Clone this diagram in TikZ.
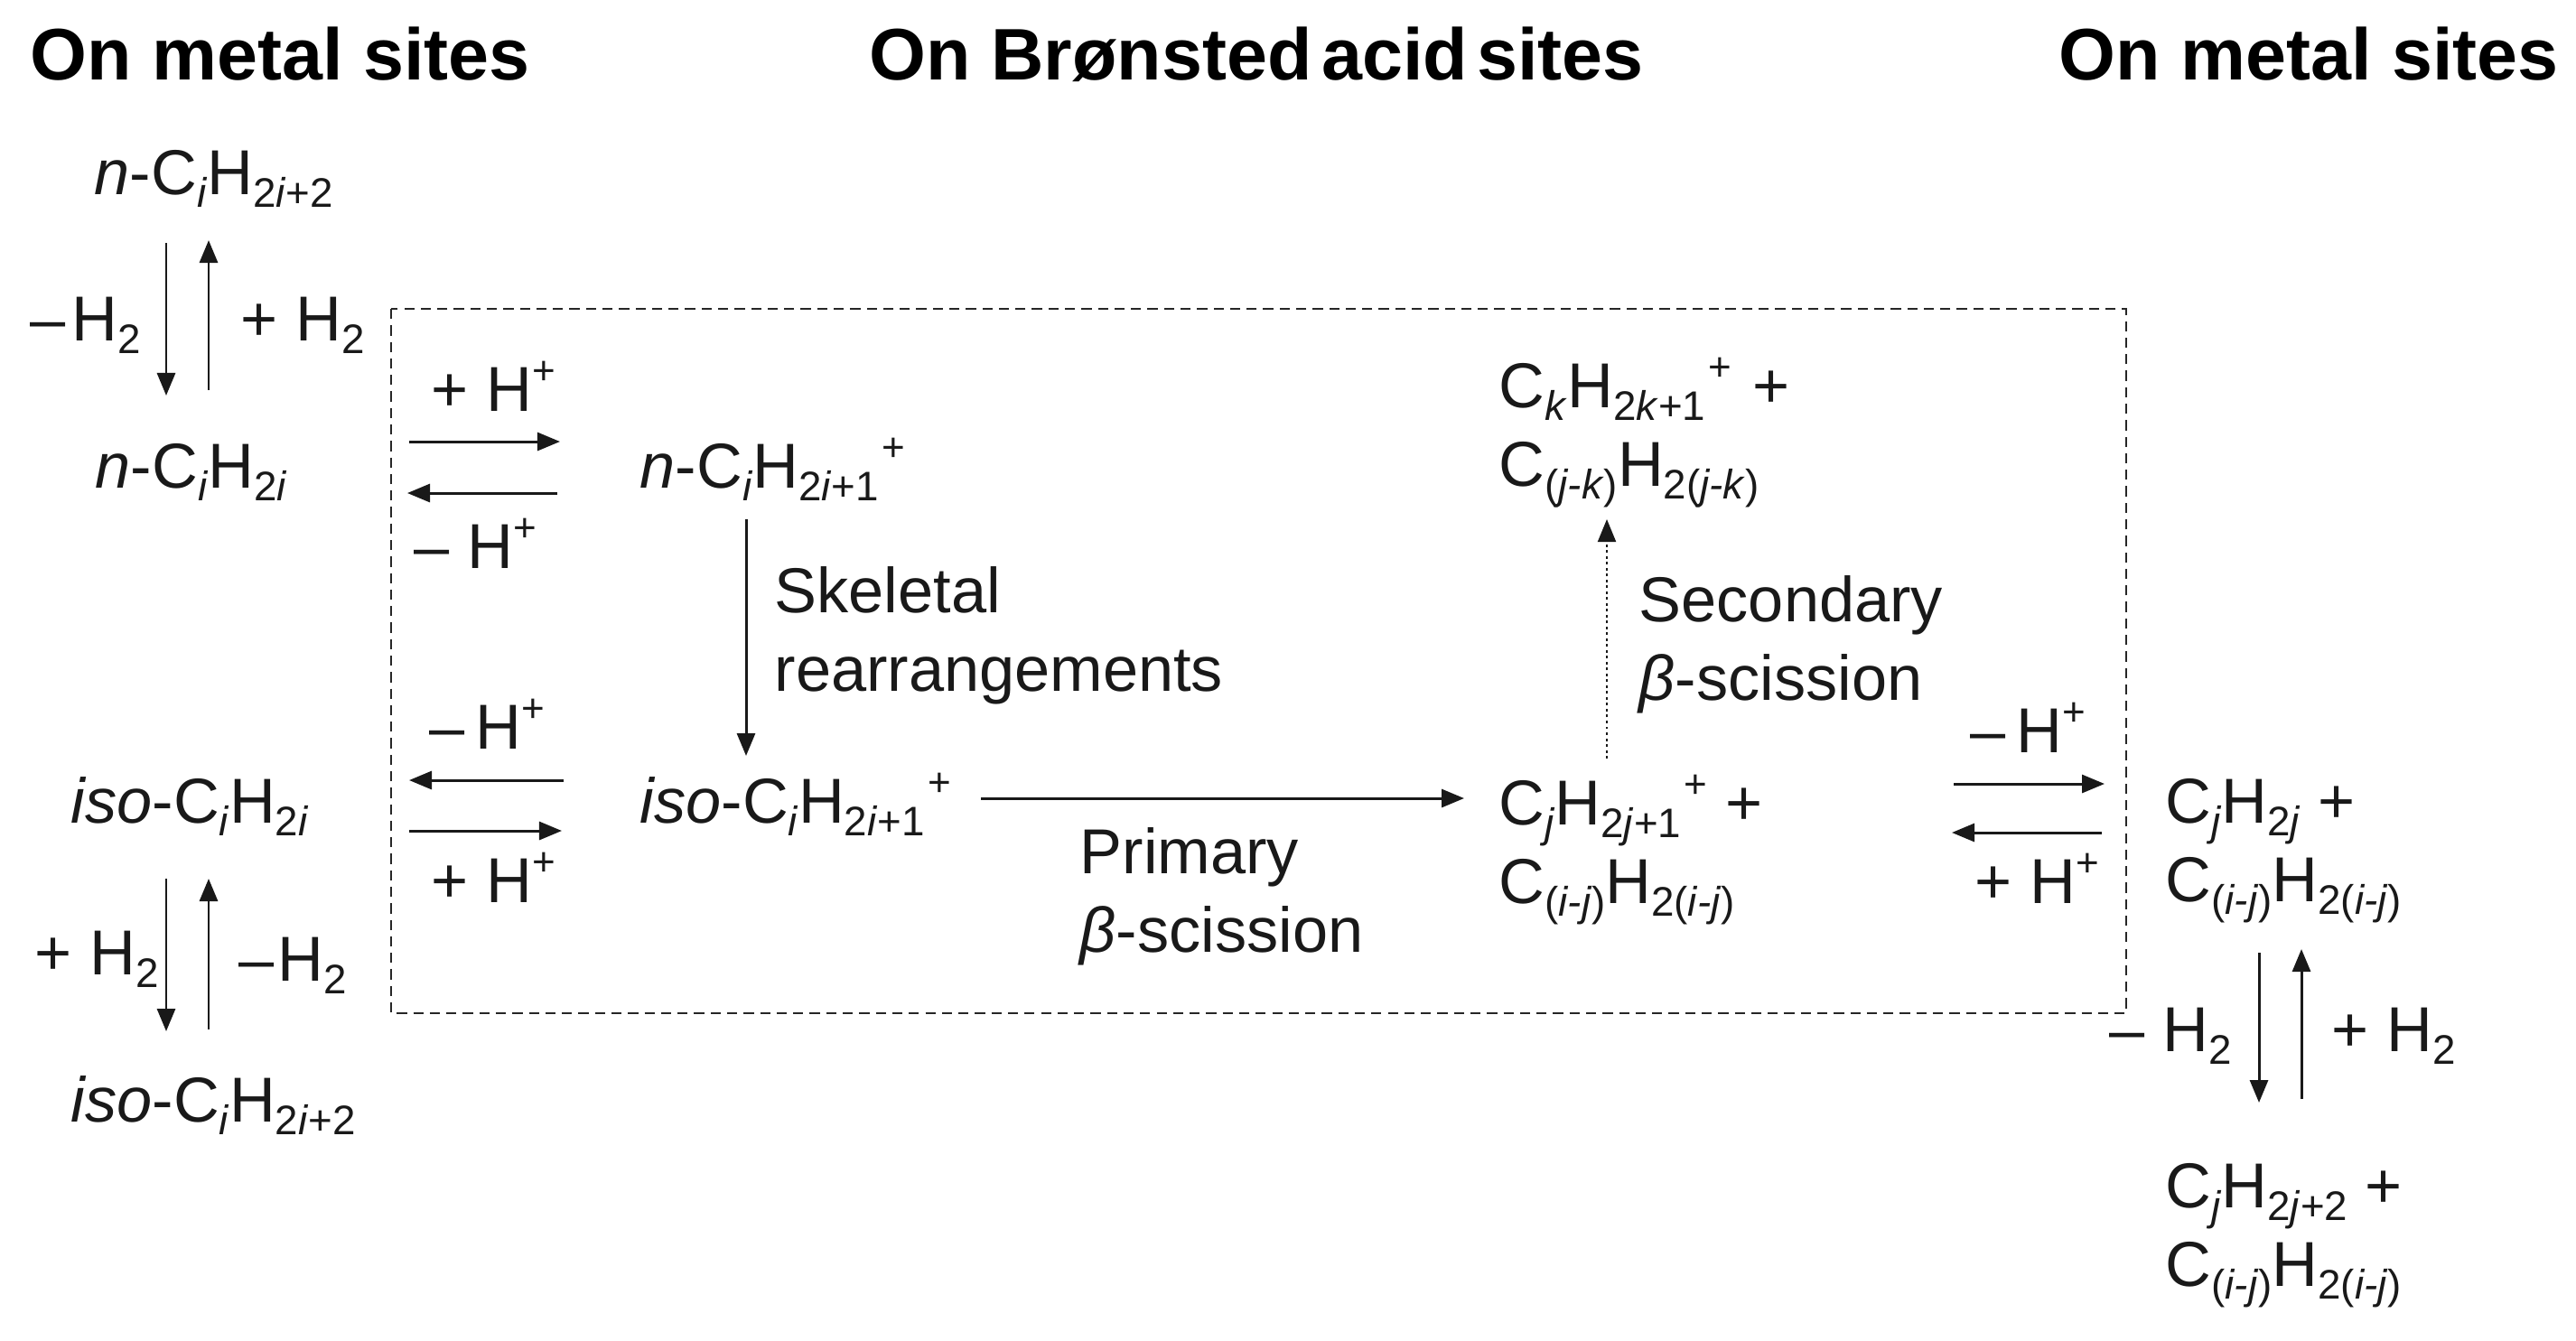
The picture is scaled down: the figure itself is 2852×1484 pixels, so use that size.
\documentclass[tikz,border=0pt]{standalone}
\usepackage{fontspec}
\usepackage{tikz}
\usetikzlibrary{arrows.meta}
\setmainfont{Liberation Sans}

\newcommand{\lsub}[1]{\raisebox{-.2em}{\fontsize{13}{14}\selectfont #1}}
\newcommand{\lsup}[1]{\raisebox{.42em}{\fontsize{12.5}{13}\selectfont #1}}

\begin{document}
\begin{tikzpicture}[
    x=.01cm, y=-.01cm,
    every node/.style={anchor=base west, inner sep=0pt, align=left, text=black!90, font=\fontsize{20}{24.7}\selectfont},
    sitetitle/.style={font=\fontsize{23}{28}\selectfont\bfseries, text=black},
    rxn/.style={-{Triangle[length=.25cm,width=.2cm]}, line width=.85pt, black!90},
    rxnfaint/.style={rxn, densely dotted, line width=.6pt},
    sitebox/.style={line width=.8pt, dash pattern=on 3.2pt off 2pt, black!85}
]
\useasboundingbox (0,0) rectangle (2852,1484);

% titles
\node[sitetitle] (metalleft) at (33,88) {On metal sites};
\node[sitetitle] (acid) at (962,88) {On Brønsted\hspace{3pt}acid\hspace{3pt}sites};
\node[sitetitle] (metalright) at (2279,88) {On metal sites};

\draw[sitebox] (433,342) rectangle (2354,1122);

% species
\node (nalkane) at (104,215) {\textit{n}-C\lsub{\textit{i}}H\lsub{2\textit{i}+2}};
\node (nalkene) at (105,540) {\textit{n}-C\lsub{\textit{i}}H\lsub{2\textit{i}}};
\node (isoalkene) at (78,911) {\textit{iso}-C\lsub{\textit{i}}H\lsub{2\textit{i}}};
\node (isoalkane) at (78,1242) {\textit{iso}-C\lsub{\textit{i}}H\lsub{2\textit{i}+2}};
\node (ncarb) at (708,540) {\textit{n}-C\lsub{\textit{i}}H\lsub{2\textit{i}+1}\kern1pt\lsup{+}};
\node (isocarb) at (708,911) {\textit{iso}-C\lsub{\textit{i}}H\lsub{2\textit{i}+1}\kern1pt\lsup{+}};
\node (jcarb) at (1659,1000) {C\lsub{\textit{j}}H\lsub{2\textit{j}+1}\kern1pt\lsup{+} +\\C\lsub{(\textit{i-j})}H\lsub{2(\textit{i-j})}};
\node (kcarb) at (1659,538) {C\lsub{\textit{k}}H\lsub{2\textit{k}+1}\kern1pt\lsup{+}\ \kern1pt+\\C\lsub{(\textit{j-k})}H\lsub{2(\textit{j-k})}};
\node (jalkene) at (2397,998) {C\lsub{\textit{j}}H\lsub{2\textit{j}} +\\C\lsub{(\textit{i-j})}H\lsub{2(\textit{i-j})}};
\node (jalkane) at (2397,1424) {C\lsub{\textit{j}}H\lsub{2\textit{j}+2} +\\C\lsub{(\textit{i-j})}H\lsub{2(\textit{i-j})}};

% labels
\node (minusa) at (33,377) {–\kern2pt H\lsub{2}};
\node (plusa) at (266,377) {+ H\lsub{2}};
\node (plusb) at (38,1079) {+ H\lsub{2}};
\node (minusb) at (264,1086) {–\kern1pt H\lsub{2}};
\node (minusc) at (2335,1164) {– H\lsub{2}};
\node (plusc) at (2581,1164) {+ H\lsub{2}};
\node (protona) at (477,455) {+ H\lsup{+}};
\node (protonb) at (458,629) {– H\lsup{+}};
\node (protonc) at (475,829) {–\,H\lsup{+}};
\node (protond) at (477,999) {+ H\lsup{+}};
\node (protone) at (2181,833) {–\,H\lsup{+}};
\node (protonf) at (2186,1000) {+ H\lsup{+}};
\node (skeletal) at (857,765) {Skeletal\\rearrangements};
\node (primary) at (1195,1054) {Primary\\\textit{β}-scission};
\node (secondary) at (1814,775) {Secondary\\\textit{β}-scission};

% arrows
\draw[rxn] ([shift={(80,54)}]nalkane.base west) -- ([shift={(79,-102)}]nalkene.base west);
\draw[rxn] ([shift={(126,-108)}]nalkene.base west) -- ([shift={(127,51)}]nalkane.base west);
\draw[rxn] ([shift={(348,-51)}]nalkene.base west) -- ([shift={(-88,-51)}]ncarb.base west);
\draw[rxn] ([shift={(-91,6)}]ncarb.base west) -- ([shift={(346,6)}]nalkene.base west);
\draw[rxn] ([shift={(118,35)}]ncarb.base west) -- ([shift={(118,-74)}]isocarb.base west);
\draw[rxn] ([shift={(-84,-47)}]isocarb.base west) -- ([shift={(375,-47)}]isoalkene.base west);
\draw[rxn] ([shift={(375,9)}]isoalkene.base west) -- ([shift={(-86,9)}]isocarb.base west);
\draw[rxn] ([shift={(106,62)}]isoalkene.base west) -- ([shift={(106,-100)}]isoalkane.base west);
\draw[rxn] ([shift={(153,-102)}]isoalkane.base west) -- ([shift={(153,62)}]isoalkene.base west);
\draw[rxn] ([shift={(378,-27)}]isocarb.base west) -- ([shift={(-38,-116)}]jcarb.base west);
\draw[rxnfaint] ([shift={(120,-160)}]jcarb.base west) -- ([shift={(120,37)}]kcarb.base west);
\draw[rxn] ([shift={(504,-132)}]jcarb.base west) -- ([shift={(-67,-130)}]jalkene.base west);
\draw[rxn] ([shift={(-70,-76)}]jalkene.base west) -- ([shift={(502,-78)}]jcarb.base west);
\draw[rxn] ([shift={(104,57)}]jalkene.base west) -- ([shift={(104,-203)}]jalkane.base west);
\draw[rxn] ([shift={(151,-207)}]jalkane.base west) -- ([shift={(151,53)}]jalkene.base west);
\end{tikzpicture}
\end{document}
